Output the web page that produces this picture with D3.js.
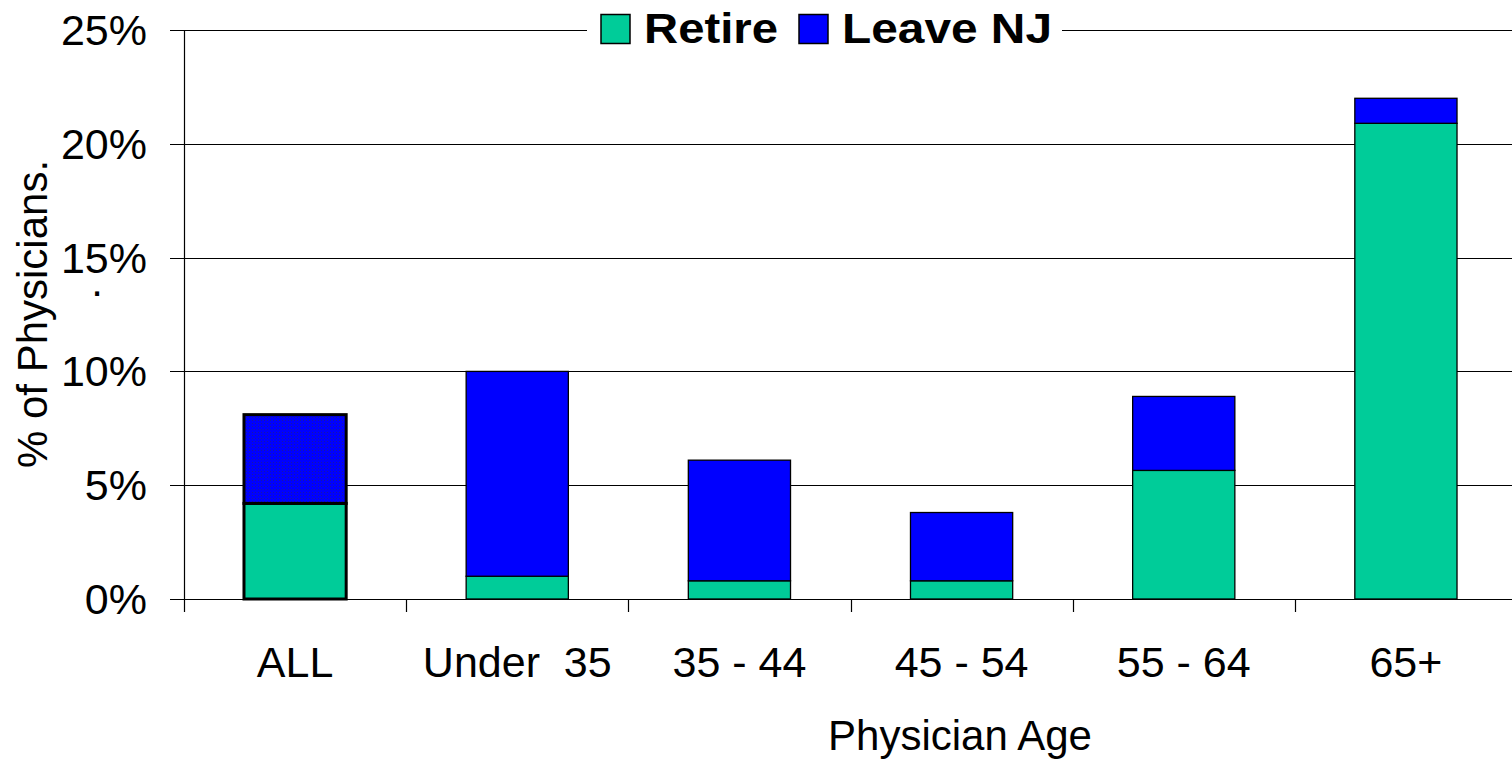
<!DOCTYPE html>
<html><head><meta charset="utf-8">
<script src="https://cdn.jsdelivr.net/npm/d3@7"></script>
<style>body{margin:0;background:#fff}svg{display:block;font-family:Arial,"Liberation Sans",sans-serif}</style>
</head><body><svg id="c" width="1512" height="759"></svg>
<script>
const categories = ["ALL", "Under  35", "35 - 44", "45 - 54", "55 - 64", "65+"];
const retire = [4.2, 1.0, 0.8, 0.8, 5.65, 20.9];
const leaveNJ = [3.9, 9.0, 5.3, 3.0, 3.25, 1.1];
const yTicks = [0, 5, 10, 15, 20, 25];
const seriesNames = ["Retire", "Leave NJ"];
const colors = ["#00CC99", "#0000FF"];

const svg = d3.select("#c");
const pLeft = 184, pRight = 1517, pTop = 30, pBottom = 599;
const y = d3.scaleLinear().domain([0, 25]).range([pBottom, pTop]);
const x = d3.scaleBand().domain(categories).range([pLeft, pRight]).paddingInner(0.54).paddingOuter(0.27);
const step = x.step();

// pattern for ALL blue
const defs = svg.append("defs");
const pat = defs.append("pattern").attr("id", "dots").attr("width", 3).attr("height", 3).attr("patternUnits", "userSpaceOnUse");
pat.append("rect").attr("width", 3).attr("height", 3).attr("fill", "#0000FF");
pat.append("rect").attr("width", 1).attr("height", 1).attr("fill", "#1a1aa0");

// gridlines
svg.append("g").selectAll("line").data(yTicks).join("line")
  .attr("x1", 170).attr("x2", 1512)
  .attr("y1", d => Math.round(y(d)) + 0.5).attr("y2", d => Math.round(y(d)) + 0.5)
  .attr("stroke", "#000").attr("stroke-width", 1.2);

// y tick labels
svg.append("g").selectAll("text").data(yTicks).join("text")
  .attr("x", 147).attr("y", d => y(d) + 15).attr("text-anchor", "end")
  .attr("font-size", 43).text(d => d + "%");

// y axis line
svg.append("line").attr("x1", pLeft + 0.5).attr("x2", pLeft + 0.5).attr("y1", pTop).attr("y2", pBottom + 13)
  .attr("stroke", "#000").attr("stroke-width", 1.2);

// x category ticks
svg.append("g").selectAll("line").data(categories.slice(1)).join("line")
  .attr("x1", d => Math.round(x(d) - (step - x.bandwidth()) / 2) + 0.5)
  .attr("x2", d => Math.round(x(d) - (step - x.bandwidth()) / 2) + 0.5)
  .attr("y1", pBottom).attr("y2", pBottom + 13).attr("stroke", "#000").attr("stroke-width", 1.2);

// bars
const stacked = categories.map((c, i) => ({c, i, r: retire[i], l: leaveNJ[i]}));
const g = svg.append("g");
stacked.forEach(d => {
  const sw = d.i === 0 ? 3 : 1.3;
  g.append("rect").attr("x", x(d.c)).attr("width", x.bandwidth())
    .attr("y", y(d.r)).attr("height", y(0) - y(d.r))
    .attr("fill", colors[0]).attr("stroke", "#000").attr("stroke-width", sw);
  g.append("rect").attr("x", x(d.c)).attr("width", x.bandwidth())
    .attr("y", y(d.r + d.l)).attr("height", y(d.r) - y(d.r + d.l))
    .attr("fill", d.i === 0 ? "url(#dots)" : colors[1]).attr("stroke", "#000").attr("stroke-width", sw);
});

// x labels
svg.append("g").selectAll("text").data(categories).join("text")
  .attr("x", d => x(d) + x.bandwidth() / 2).attr("y", 677).attr("text-anchor", "middle")
  .attr("font-size", 43).attr("xml:space", "preserve").style("white-space", "pre").text(d => d);

// axis titles
svg.append("text").attr("x", 960).attr("y", 750).attr("text-anchor", "middle").attr("font-size", 42).text("Physician Age");
svg.append("text").attr("transform", "translate(47,314) rotate(-90)").attr("text-anchor", "middle").attr("font-size", 42).text("% of Physicians.");
svg.append("text").attr("x", 97).attr("y", 296).attr("text-anchor", "middle").attr("font-size", 42).text(".");

// legend
const lg = svg.append("g");
lg.append("rect").attr("x", 587).attr("y", 5).attr("width", 475).attr("height", 48).attr("fill", "#fff");
const legItems = [
  {name: seriesNames[0], color: colors[0], sx: 601, tx: 644, tl: 134},
  {name: seriesNames[1], color: colors[1], sx: 799, tx: 842, tl: 210}
];
legItems.forEach(it => {
  lg.append("rect").attr("x", it.sx).attr("y", 14.5).attr("width", 29).attr("height", 29)
    .attr("fill", it.color).attr("stroke", "#000").attr("stroke-width", 1.5);
  lg.append("text").attr("x", it.tx).attr("y", 43).attr("font-size", 42).attr("font-weight", "bold")
    .attr("textLength", it.tl).attr("lengthAdjust", "spacingAndGlyphs").text(it.name);
});
</script></body></html>
